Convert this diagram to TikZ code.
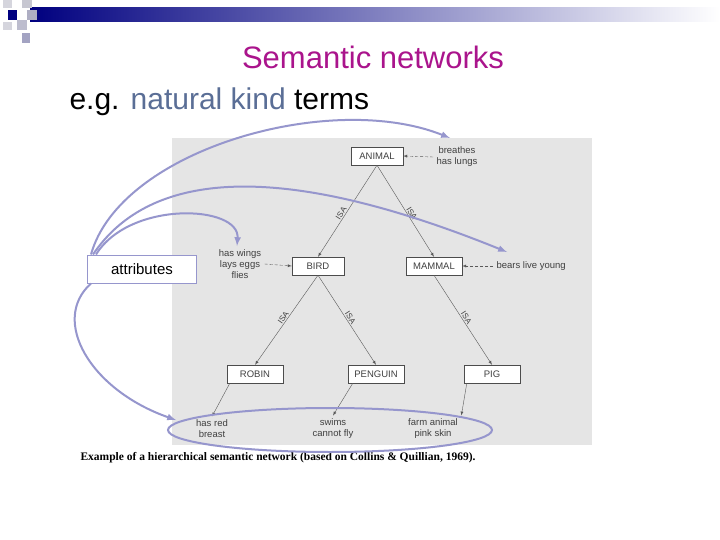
\documentclass[tikz,border=0pt]{standalone}
\usepackage{fontspec}
\setmainfont{Liberation Sans}
\newfontfamily\capfont{Liberation Serif}
\usetikzlibrary{shapes.geometric}
\definecolor{pb}{RGB}{150,150,205}
\begin{document}
\begin{tikzpicture}[x=1pt,y=-1pt,
  box/.style={draw=black!70,fill=white,minimum width=#1,minimum height=18,inner sep=1pt,font=\fontsize{9.5}{10}\selectfont,text=black!75},
  attr/.style={align=center,font=\fontsize{9.5}{11}\selectfont,text=black!75},
  isa/.style={draw=black!65,-latex,thin},
  dsh/.style={draw=black!65,densely dashed,-latex,thin},
  isal/.style={font=\fontsize{8}{8}\selectfont,text=black!75,sloped,above,inner sep=1pt},
  bl/.style={draw=pb,line width=2pt,-latex}]
\useasboundingbox (0,0) rectangle (720,540);
\fill[white] (0,0) rectangle (720,540);
% header decoration
\shade[left color=blue!50!black,right color=white] (30,8) rectangle (720,22);
\fill[blue!10!gray!30] (3,0) rectangle (12,8);
\fill[blue!10!gray!40] (22,0) rectangle (32,8);
\fill[blue!50!black] (8,10) rectangle (17,20);
\fill[blue!15!gray!45] (17,20) rectangle (27,30);
\fill[blue!15!gray!55] (27,10) rectangle (37,20);
\fill[blue!10!gray!30] (3,22) rectangle (12,30);
\fill[blue!20!gray!60] (22,33) rectangle (30,43);
\node[text={rgb,255:red,170;green,20;blue,140},font=\fontsize{31}{34}\selectfont] (title) at (373,57) {Semantic networks};
\node[anchor=west,font=\fontsize{30}{33}\selectfont] (sub) at (66,102) {e.g. \textcolor[RGB]{90,110,150}{natural kind} terms};
% panel
\fill[black!10] (172,138) rectangle (592,445);
\node[box=52] (animal) at (377,156) {ANIMAL};
\node[box=52] (bird) at (318,266) {BIRD};
\node[box=56] (mammal) at (434,266) {MAMMAL};
\node[box=56] (robin) at (255,374) {ROBIN};
\node[box=56] (penguin) at (376,374) {PENGUIN};
\node[box=56] (pig) at (492,374) {PIG};
\node[attr] (a1) at (457,157) {breathes\\has lungs};
\node[attr] (a2) at (240,264) {has wings\\lays eggs\\flies};
\node[attr,anchor=west] (a3) at (493,266) {bears live young};
\node[attr] (a4) at (212,429) {has red\\breast};
\node[attr] (a5) at (333,429) {swims\\cannot fly};
\node[attr] (a6) at (433,429) {farm animal\\pink skin};
\draw[isa] (animal.south) -- node[isal,pos=0.55]{ISA} (bird.north);
\draw[isa] (animal.south) -- node[isal,pos=0.55]{ISA} (mammal.north);
\draw[isa] (bird.south) -- node[isal,pos=0.5]{ISA} (robin.north);
\draw[isa] (bird.south) -- node[isal,pos=0.5]{ISA} (penguin.north);
\draw[isa] (mammal.south) -- node[isal,pos=0.5]{ISA} (pig.north);
\draw[dsh] (a1.west) -- (animal.east);
\draw[dsh] (a2.east) -- (bird.west);
\draw[dsh] (a3.west) -- (mammal.east);
\draw[isa] ([xshift=3]robin.south west) -- (a4.north);
\draw[isa] ([xshift=5]penguin.south west) -- (a5.north);
\draw[isa] ([xshift=3]pig.south west) -- (a6.north east);
\node[anchor=west,font=\capfont\bfseries\fontsize{11.5}{12}\selectfont] (cap) at (77,458) {Example of a hierarchical semantic network (based on Collins \& Quillian, 1969).};
% attributes box and pointers
\node[draw=pb,fill=white,line width=1pt,minimum width=109,minimum height=28,font=\fontsize{15}{17}\selectfont] (attr) at (142,269) {attributes};
\node[draw=pb,line width=2pt,ellipse,minimum width=324,minimum height=44] (ell) at (330,430) {};
\coordinate (t1) at (450,138);
\coordinate (t2) at (507,252);
\coordinate (t3) at (237,246);
\coordinate (t4) at (176,420);
\draw[bl] ([xshift=4]attr.north west) .. controls (120,150) and (330,90) .. (t1);
\draw[bl] ([xshift=6]attr.north west) .. controls (150,170) and (280,160) .. (t2);
\draw[bl] ([xshift=9]attr.north west) .. controls (130,200) and (240,205) .. (t3);
\draw[bl] ([xshift=4]attr.south west) .. controls (50,320) and (90,390) .. (t4);
\end{tikzpicture}
\end{document}
